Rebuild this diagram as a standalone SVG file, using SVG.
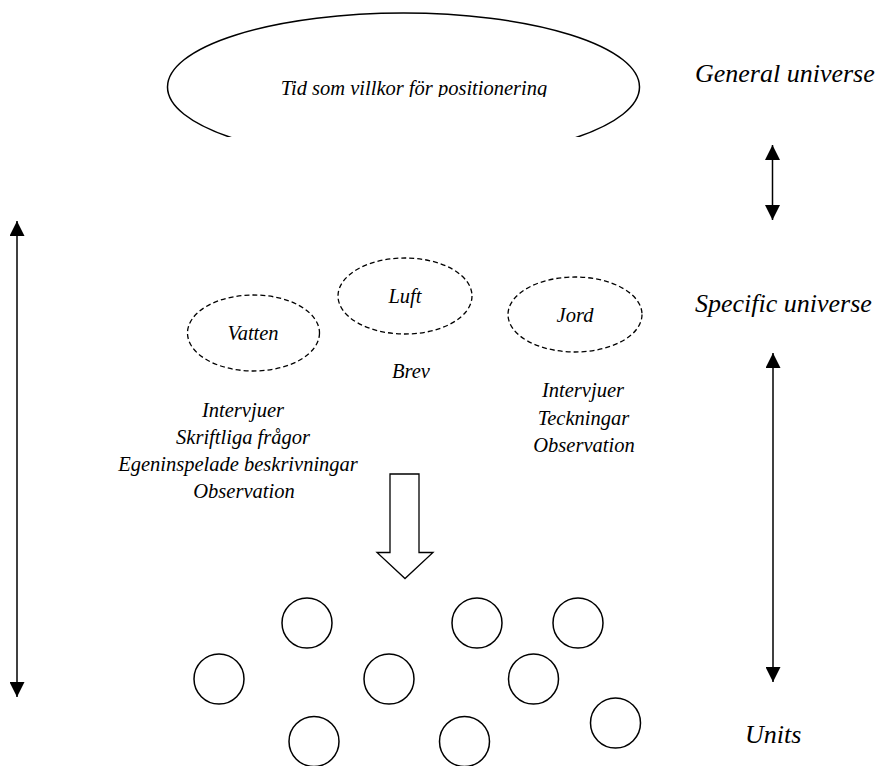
<svg xmlns="http://www.w3.org/2000/svg" width="885" height="766" viewBox="0 0 885 766">
<style>
text{font-family:"Liberation Serif","Times New Roman",serif;font-style:italic;fill:#000}
.t{font-size:20.5px;text-anchor:middle}
.big{font-size:26px}
.dash{fill:none;stroke:#000;stroke-width:1.3;stroke-dasharray:5,3}
.unit{fill:none;stroke:#000;stroke-width:1.5}
.ln{stroke:#000;stroke-width:1.5;fill:none}
</style>
<defs>
<clipPath id="cE"><rect x="0" y="0" width="885" height="137"/></clipPath>
<clipPath id="cT"><rect x="0" y="0" width="885" height="97"/></clipPath>
<marker id="ah" viewBox="0 0 16 15" refX="15" refY="7.5" markerWidth="16" markerHeight="15" markerUnits="userSpaceOnUse" orient="auto-start-reverse">
<path d="M0,0 L15,7.5 L0,15 Z" fill="#000"/>
</marker>
</defs>
<g id="general">
<ellipse cx="403.5" cy="87" rx="236" ry="74" fill="none" stroke="#000" stroke-width="1.5" clip-path="url(#cE)"/>
<text class="t" x="414" y="95" clip-path="url(#cT)">Tid som villkor för positionering</text>
</g>
<g id="labels">
<text class="big" x="695" y="82">General universe</text>
<text class="big" x="695" y="312">Specific universe</text>
<text class="big" x="745" y="743">Units</text>
</g>
<g id="vatten">
<ellipse class="dash" cx="253.5" cy="333" rx="66" ry="38"/>
<text class="t" x="253" y="340">Vatten</text>
<text class="t" x="243" y="417">Intervjuer</text>
<text class="t" x="243" y="444">Skriftliga frågor</text>
<text class="t" x="238" y="471">Egeninspelade beskrivningar</text>
<text class="t" x="244" y="498">Observation</text>
</g>
<g id="luft">
<ellipse class="dash" cx="405" cy="296" rx="67" ry="38"/>
<text class="t" x="405" y="303">Luft</text>
<text class="t" x="411" y="378">Brev</text>
</g>
<g id="jord">
<ellipse class="dash" cx="575" cy="314.5" rx="67" ry="37.5"/>
<text class="t" x="575" y="322">Jord</text>
<text class="t" x="583" y="397">Intervjuer</text>
<text class="t" x="583.5" y="425">Teckningar</text>
<text class="t" x="584" y="452">Observation</text>
</g>
<g id="units">
<circle class="unit" cx="307" cy="623" r="25"/>
<circle class="unit" cx="477" cy="623" r="25"/>
<circle class="unit" cx="578" cy="623" r="25"/>
<circle class="unit" cx="219" cy="679" r="25"/>
<circle class="unit" cx="389" cy="679" r="25"/>
<circle class="unit" cx="533.5" cy="679" r="25"/>
<circle class="unit" cx="615.5" cy="723" r="25"/>
<circle class="unit" cx="314" cy="741.5" r="25"/>
<circle class="unit" cx="464.5" cy="741.5" r="25"/>
</g>
<g id="connectors">
<line class="ln" x1="772.5" y1="145" x2="772.5" y2="220" marker-start="url(#ah)" marker-end="url(#ah)"/>
<line class="ln" x1="17" y1="221" x2="17" y2="697" marker-start="url(#ah)" marker-end="url(#ah)"/>
<line class="ln" x1="773" y1="353" x2="773" y2="682" marker-start="url(#ah)" marker-end="url(#ah)"/>
<path d="M390,474 L419,474 L419,552.5 L433,552.5 L405,578.5 L377,552.5 L390,552.5 Z" fill="#fff" stroke="#000" stroke-width="1.3"/>
</g>
</svg>
